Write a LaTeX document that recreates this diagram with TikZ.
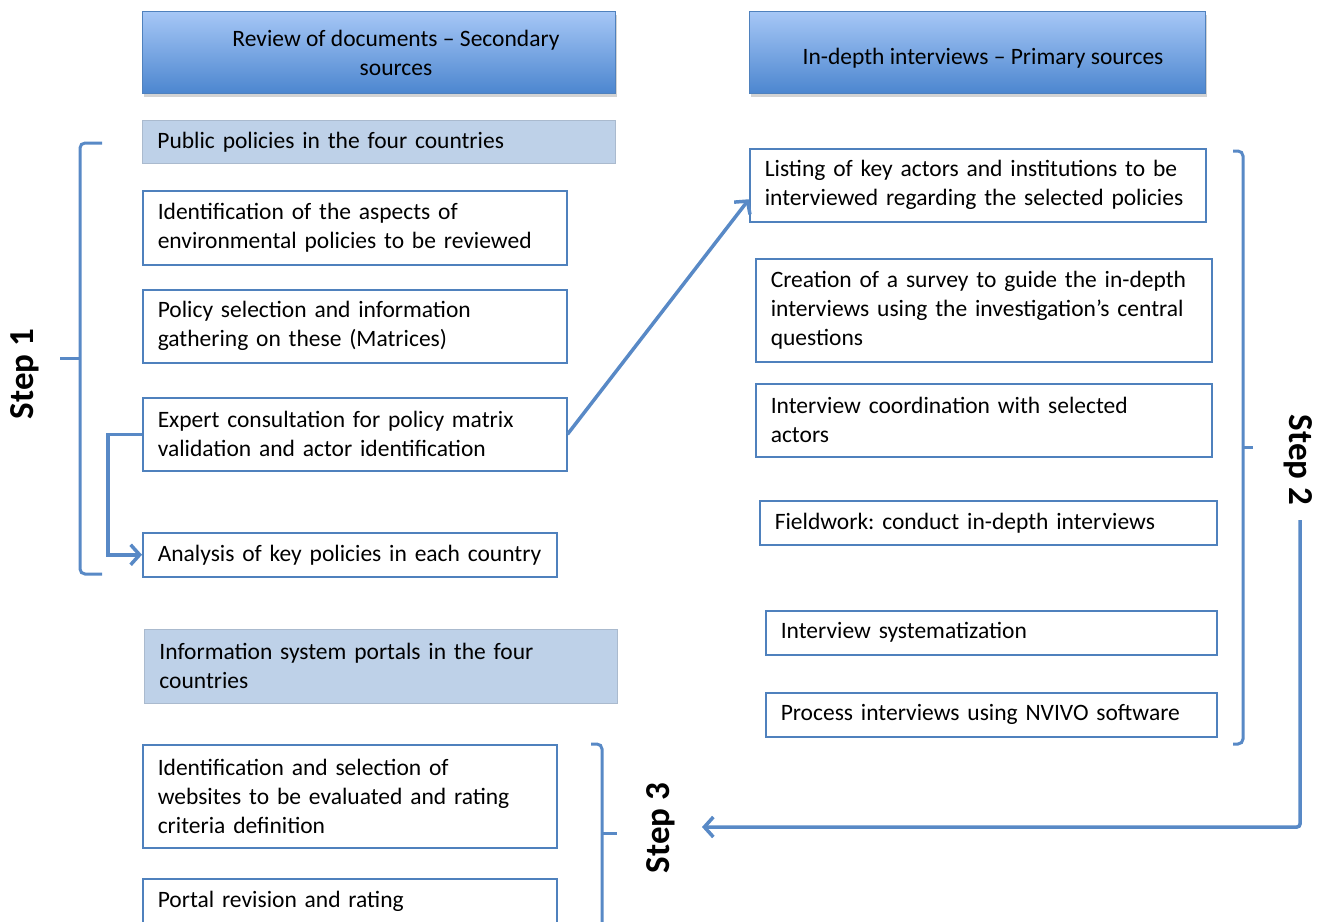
\documentclass[tikz,border=0pt]{standalone}
\usepackage{fontspec}
\setmainfont{Carlito}
\usetikzlibrary{arrows.meta,shadows,calc}
\definecolor{bblue}{RGB}{79,129,189}
\definecolor{lblue}{RGB}{88,137,198}
\definecolor{pfill}{RGB}{190,209,232}
\definecolor{pline}{RGB}{170,186,206}
\definecolor{htop}{RGB}{166,199,246}
\definecolor{hbot}{RGB}{76,134,207}
\frenchspacing
\hyphenpenalty=10000
\exhyphenpenalty=10000
\begin{document}
\begin{tikzpicture}[x=1pt,y=-1pt,
  box/.style={draw=bblue, line width=1.5pt, fill=white, inner xsep=15pt, inner ysep=0pt,
    align=left, anchor=north west, font=\fontsize{23.5}{29}\selectfont},
  pbox/.style={box, draw=pline, fill=pfill, line width=0.8pt},
  hdr/.style={draw=bblue, line width=1pt, top color=htop, bottom color=hbot,
    drop shadow={opacity=0.35, shadow xshift=1pt, shadow yshift=-3pt}, anchor=north west, inner sep=0pt},
  hdrtxt/.style={font=\fontsize{23.5}{29}\selectfont, align=center, inner sep=0pt},
  brk/.style={draw=lblue, line width=3pt, rounded corners=5pt},
  arr/.style={draw=lblue, line width=3.5pt, -{Straight Barb[length=9pt,width=20pt]}},
  steplbl/.style={font=\fontsize{35}{40}\selectfont\bfseries, inner sep=0pt}]
\useasboundingbox (0,0) rectangle (1317,921);

% headers
\node[hdr, minimum width=473pt, minimum height=82pt] (h1) at (142,11) {};
\node[hdrtxt] (h1t) at (396,53) {Review of documents – Secondary\\sources};
\node[hdr, minimum width=456pt, minimum height=82pt] (h2) at (749,11) {};
\node[hdrtxt] (h2t) at (983,58) {In-depth interviews – Primary sources};

% left column
\node[pbox, minimum width=473pt, text width=443pt, minimum height=43pt] (p1) at (142,120) {Public policies in the four countries};
\node[box, minimum width=424pt, text width=394pt, minimum height=74pt] (b1) at (142,190) {Identification of the aspects of\\environmental policies to be reviewed};
\node[box, minimum width=424pt, text width=394pt, minimum height=73pt] (b2) at (142,289) {Policy selection and information\\gathering on these (Matrices)};
\node[box, minimum width=424pt, text width=394pt, minimum height=73pt] (b3) at (142,397) {Expert consultation for policy matrix\\validation and actor identification};
\node[box, minimum width=414pt, text width=384pt, minimum height=44pt] (b4) at (142,532) {Analysis of key policies in each country};
\node[pbox, minimum width=473pt, text width=443pt, minimum height=74pt] (p2) at (144,629) {Information system portals in the four\\countries};
\node[box, minimum width=414pt, text width=384pt, minimum height=103pt] (b5) at (142,744) {Identification and selection of\\websites to be evaluated and rating\\criteria definition};
\node[box, minimum width=414pt, text width=384pt, minimum height=46pt] (b6) at (142,878) {Portal revision and rating};

% right column
\node[box, minimum width=456pt, text width=426pt, minimum height=73pt] (r1) at (749,148) {Listing of key actors and institutions to be\\interviewed regarding the selected policies};
\node[box, minimum width=456pt, text width=426pt, minimum height=103pt] (r2) at (755,258) {Creation of a survey to guide the in-depth\\interviews using the investigation’s central\\questions};
\node[box, minimum width=456pt, text width=426pt, minimum height=73pt] (r3) at (755,383) {Interview coordination with selected\\actors};
\node[box, minimum width=457pt, text width=427pt, minimum height=44pt] (r4) at (759,500) {Fieldwork: conduct in-depth interviews};
\node[box, minimum width=451pt, text width=421pt, minimum height=44pt] (r5) at (765,610) {Interview systematization};
\node[box, minimum width=451pt, text width=421pt, minimum height=44pt] (r6) at (765,692) {Process interviews using NVIVO software};

% step labels
\node[steplbl, rotate=90] (s1) at (25,374) {Step 1};
\node[steplbl, rotate=-90] (s2) at (1298,460) {Step 2};
\node[steplbl, rotate=90] (s3) at (661,828) {Step 3};

% brackets
\draw[brk] (102,143) -- (80,143) -- (80,574) -- (102,574);
\draw[brk] (80,358) -- (60,358);
\draw[brk] (1233,151) -- (1243,151) -- (1243,744) -- (1233,744);
\draw[brk] (1243,447) -- (1253,447);
\draw[brk] (591,744) -- (602,744) -- (602,935);
\draw[brk] (602,833) -- (617,833);

% connectors
\draw[arr] (b3.east) -- ($(r1.west)+(0,14)$);
\draw[arr] (b3.west) -- ++(-34,0) |- (b4.west);
\coordinate (c2) at (1300,520);
\coordinate (c3) at (702,827);
\draw[arr, rounded corners=3pt] (c2) |- (c3);
\end{tikzpicture}
\end{document}
